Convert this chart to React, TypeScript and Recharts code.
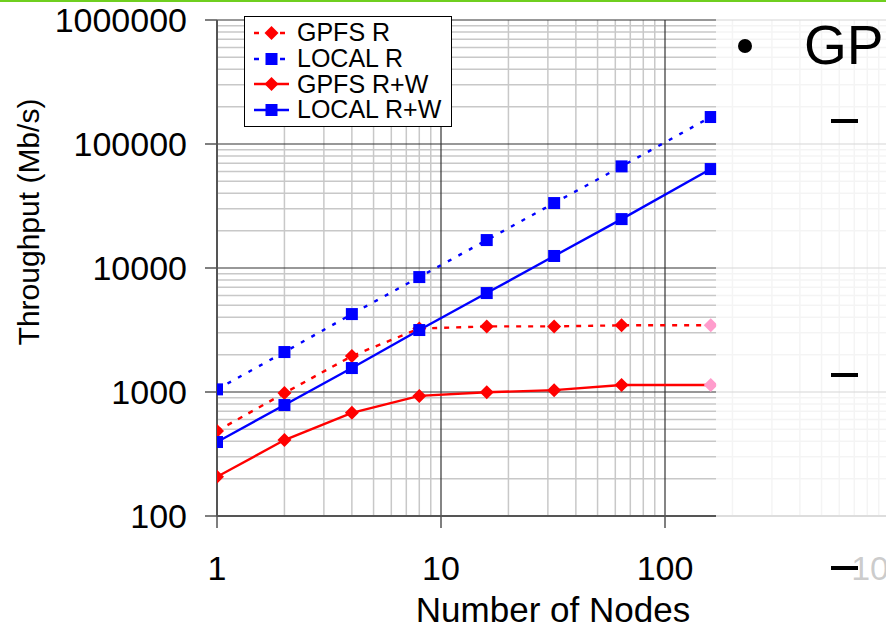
import { LineChart, Line, XAxis, YAxis, ReferenceLine } from 'recharts'

const nodes = [1, 2, 4, 8, 16, 32, 64, 160]
const gpfsR = [485, 980, 1950, 3250, 3380, 3380, 3450, 3450]
const localR = [1050, 2100, 4250, 8450, 16800, 33400, 66000, 165000]
const gpfsRW = [207, 410, 680, 930, 995, 1035, 1140, 1140]
const localRW = [395, 785, 1560, 3160, 6280, 12500, 24800, 62800]

const xTicks = [1, 10, 100, 1000]
const yTicks = [100, 1000, 10000, 100000, 1000000]
const steps = [2, 3, 4, 5, 6, 7, 8, 9]

const data = nodes.map((n, i) => ({
  nodes: n,
  gpfsR: gpfsR[i],
  localR: localR[i],
  gpfsRW: gpfsRW[i],
  localRW: localRW[i],
}))

const series = [
  { key: 'gpfsR', name: 'GPFS R', color: '#ff0000', dash: '5 7', shape: 'diamond' },
  { key: 'localR', name: 'LOCAL R', color: '#0000ff', dash: '4 8', shape: 'square' },
  { key: 'gpfsRW', name: 'GPFS R+W', color: '#ff0000', dash: undefined, shape: 'diamond' },
  { key: 'localRW', name: 'LOCAL R+W', color: '#0000ff', dash: undefined, shape: 'square' },
]

const minorX = xTicks.slice(0, 3).flatMap((d) => steps.map((s) => d * s))
const minorY = yTicks.slice(0, 4).flatMap((d) => steps.map((s) => d * s))

const font = '"Liberation Sans", Arial, sans-serif'

function Marker({ cx, cy, shape, color }: { cx: number; cy: number; shape: string; color: string }) {
  if (shape === 'square') {
    return <rect x={cx - 6} y={cy - 6} width={12} height={12} fill={color} />
  }
  return (
    <polygon
      points={`${cx},${cy - 7} ${cx + 7},${cy} ${cx},${cy + 7} ${cx - 7},${cy}`}
      fill={color}
    />
  )
}

function makeDot(shape: string, color: string) {
  return (props: any) => {
    const { cx, cy, index } = props
    if (cx == null || cy == null) return <g key={index} />
    // last GPFS points are drawn pale in the original
    const c = shape === 'diamond' && index === nodes.length - 1 ? '#ff9ccc' : color
    return <Marker key={index} cx={cx} cy={cy} shape={shape} color={c} />
  }
}

function XTick(props: any) {
  const { x, y, payload } = props
  return (
    <text x={x} y={y} dy={36} textAnchor="middle" fontSize={34} fontFamily={font} fill="#000">
      {payload.value}
    </text>
  )
}

function LegendBox() {
  return (
    <div
      style={{
        position: 'absolute',
        left: 244,
        top: 16,
        width: 208,
        height: 111,
        border: '1.5px solid #000',
        background: '#fff',
        paddingTop: 3,
        boxSizing: 'border-box',
      }}
    >
      {series.map((s) => (
        <div key={s.key} style={{ display: 'flex', alignItems: 'center', height: 25.7 }}>
          <svg width={44} height={20} style={{ marginLeft: 8 }}>
            <line x1={1} y1={10} x2={36} y2={10} stroke={s.color} strokeWidth={2.5} strokeDasharray={s.dash ? '5 8' : undefined} />
            <Marker cx={18.5} cy={10} shape={s.shape} color={s.color} />
          </svg>
          <span style={{ fontSize: 25, lineHeight: '25px', color: '#000' }}>{s.name}</span>
        </div>
      ))}
    </div>
  )
}

export default function App() {
  return (
    <div
      style={{
        position: 'fixed',
        left: 0,
        top: 0,
        width: 886,
        height: 629,
        overflow: 'hidden',
        background: '#fff',
        fontFamily: font,
      }}
    >
      <LineChart width={900} height={629} data={data} margin={{ top: 20, right: 11, bottom: 0, left: 0 }}>
        {minorX.map((v) => (
          <ReferenceLine key={'mx' + v} x={v} stroke="#c8c8c8" strokeWidth={1.5} />
        ))}
        {minorY.map((v) => (
          <ReferenceLine key={'my' + v} y={v} stroke="#c8c8c8" strokeWidth={1.5} />
        ))}
        {xTicks.slice(1).map((v) => (
          <ReferenceLine key={'Mx' + v} x={v} stroke="#333" strokeWidth={1.2} />
        ))}
        {yTicks.slice(1).map((v) => (
          <ReferenceLine key={'My' + v} y={v} stroke="#333" strokeWidth={1.2} />
        ))}
        <XAxis
          dataKey="nodes"
          type="number"
          scale="log"
          domain={[1, 1000]}
          ticks={xTicks}
          interval={0}
          allowDataOverflow
          height={113}
          tickSize={12}
          tickMargin={16}
          axisLine={{ stroke: '#555', strokeWidth: 2 }}
          tickLine={{ stroke: '#555', strokeWidth: 1.5 }}
          tick={<XTick />}
          label={() => (
            <text x={553} y={622} textAnchor="middle" fontSize={35} fontFamily={font} fill="#000">
              Number of Nodes
            </text>
          )}
        />
        <YAxis
          type="number"
          scale="log"
          domain={[100, 1000000]}
          ticks={yTicks}
          interval={0}
          allowDataOverflow
          width={217}
          tickSize={12}
          tickMargin={18}
          axisLine={{ stroke: '#555', strokeWidth: 2 }}
          tickLine={{ stroke: '#555', strokeWidth: 1.5 }}
          tick={{ fill: '#000', fontSize: 34, fontFamily: font }}
          label={() => (
            <text
              x={39}
              y={222}
              transform="rotate(-90 39 222)"
              textAnchor="middle"
              fontSize={30}
              fontFamily={font}
              fill="#000"
            >
              Throughput (Mb/s)
            </text>
          )}
        />
        {series.map((s) => (
          <Line
            key={s.key}
            dataKey={s.key}
            name={s.name}
            type="linear"
            stroke={s.color}
            strokeWidth={2.4}
            strokeDasharray={s.dash}
            dot={makeDot(s.shape, s.color)}
            activeDot={false}
            isAnimationActive={false}
          />
        ))}
      </LineChart>

      <LegendBox />

      {/* slide overlay on the right side */}
      <div
        style={{
          position: 'absolute',
          left: 716,
          top: 3,
          width: 170,
          height: 626,
          background: 'rgba(255,255,255,0.8)',
        }}
      />
      <div style={{ position: 'absolute', left: 738, top: 39, width: 14, height: 14, borderRadius: 7, background: '#000' }} />
      <div style={{ position: 'absolute', left: 804, top: 10, fontSize: 55, lineHeight: '70px', color: '#000' }}>GP</div>
      <div style={{ position: 'absolute', left: 831, top: 119, width: 27, height: 4, background: '#000' }} />
      <div style={{ position: 'absolute', left: 831, top: 373, width: 27, height: 4, background: '#000' }} />
      <div style={{ position: 'absolute', left: 831, top: 566, width: 27, height: 4, background: '#000' }} />

      <div style={{ position: 'absolute', left: 0, top: 0, width: 886, height: 2, background: '#6fcf1f' }} />
    </div>
  )
}
